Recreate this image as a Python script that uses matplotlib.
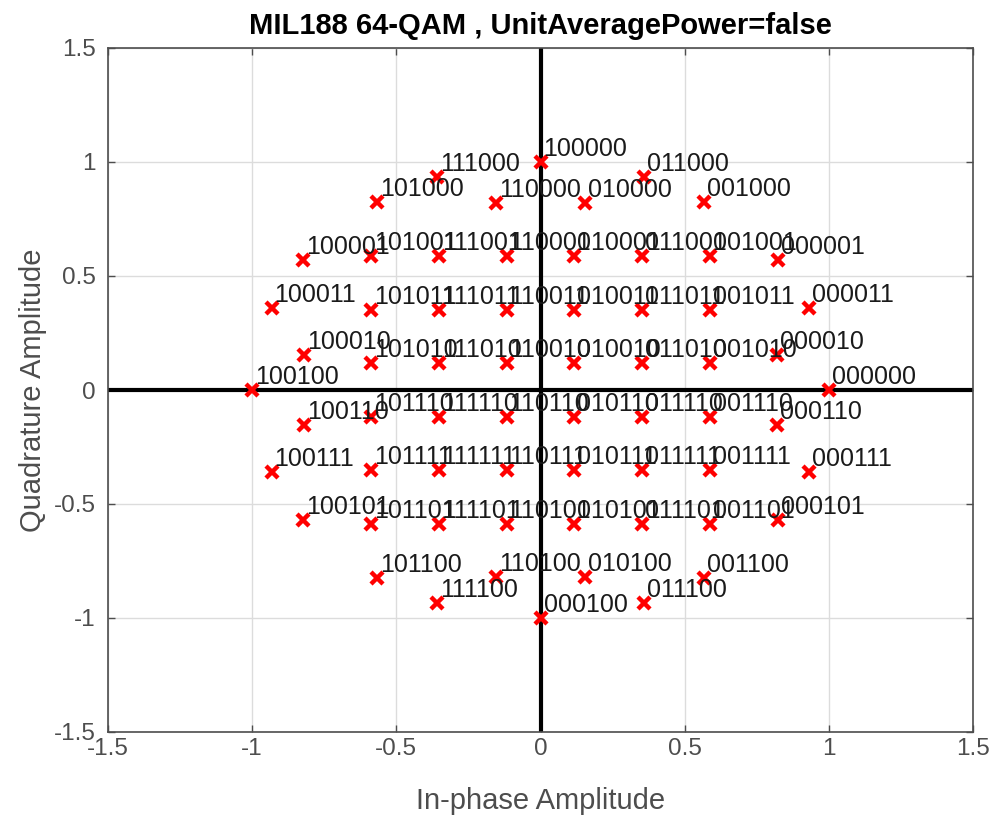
import matplotlib
matplotlib.use("Agg")
import matplotlib.pyplot as plt

# Constellation points (in-phase, quadrature) and their bit labels
labels = [
    "000000", "000010", "000011", "000001", "001000", "011000", "010000",
    "100000", "110000", "111000", "101000", "100001", "100011", "100010",
    "100100", "100110", "100111", "100101", "101100", "111100", "110100",
    "000100", "010100", "011100", "001100", "000101", "000111", "000110",
    "001001", "011001", "010001", "001011", "011011", "010011", "001010", "011010", "010010",
    "101001", "111001", "110001", "101011", "111011", "110011", "101010", "111010", "110010",
    "101101", "111101", "110101", "101111", "111111", "110111", "101110", "111110", "110110",
    "001101", "011101", "010101", "001111", "011111", "010111", "001110", "011110", "010110",
]
i_vals = [
    1.000000, 0.821137, 0.932897, 0.822878, 0.568218, 0.360142, 0.152996,
    0.000000, -0.152996, -0.360142, -0.568218, -0.822878, -0.932897, -0.821137,
    -1.000000, -0.821137, -0.932897, -0.822878, -0.568218, -0.360142, -0.152996,
    0.000000, 0.152996, 0.360142, 0.568218, 0.822878, 0.932897, 0.821137,
    0.588429, 0.353057, 0.117686, 0.588429, 0.353057, 0.117686, 0.588429, 0.353057, 0.117686,
    -0.588429, -0.353057, -0.117686, -0.588429, -0.353057, -0.117686, -0.588429, -0.353057, -0.117686,
    -0.588429, -0.353057, -0.117686, -0.588429, -0.353057, -0.117686, -0.588429, -0.353057, -0.117686,
    0.588429, 0.353057, 0.117686, 0.588429, 0.353057, 0.117686, 0.588429, 0.353057, 0.117686,
]
q_vals = [
    0.000000, 0.152996, 0.360142, 0.568218, 0.822878, 0.932897, 0.821137,
    1.000000, 0.821137, 0.932897, 0.822878, 0.568218, 0.360142, 0.152996,
    0.000000, -0.152996, -0.360142, -0.568218, -0.822878, -0.932897, -0.821137,
    -1.000000, -0.821137, -0.932897, -0.822878, -0.568218, -0.360142, -0.152996,
    0.588429, 0.588429, 0.588429, 0.353057, 0.353057, 0.353057, 0.117686, 0.117686, 0.117686,
    0.588429, 0.588429, 0.588429, 0.353057, 0.353057, 0.353057, 0.117686, 0.117686, 0.117686,
    -0.588429, -0.588429, -0.588429, -0.353057, -0.353057, -0.353057, -0.117686, -0.117686, -0.117686,
    -0.588429, -0.588429, -0.588429, -0.353057, -0.353057, -0.353057, -0.117686, -0.117686, -0.117686,
]
tick_vals = [-1.5, -1, -0.5, 0, 0.5, 1, 1.5]
tick_labels = ["-1.5", "-1", "-0.5", "0", "0.5", "1", "1.5"]
title = "MIL188 64-QAM , UnitAveragePower=false"
xlabel = "In-phase Amplitude"
ylabel = "Quadrature Amplitude"

plt.rcParams['font.family'] = ['Liberation Sans', 'DejaVu Sans']

fig = plt.figure(figsize=(9.96, 8.19), dpi=100)
ax = fig.add_axes([108/996, 1 - 732/819, (973-108)/996, (732-48)/819])

ax.set_xlim(-1.5, 1.5)
ax.set_ylim(-1.5, 1.5)
ax.set_xticks(tick_vals)
ax.set_xticklabels(tick_labels)
ax.set_yticks(tick_vals)
ax.set_yticklabels(tick_labels)
ax.grid(True, color="#dcdcdc", linewidth=1.0)
ax.set_axisbelow(True)
for s in ax.spines.values():
    s.set_color("#4d4d4d")
    s.set_linewidth(1.2)
ax.tick_params(direction="in", length=5, width=1.0, color="#4d4d4d",
               labelsize=17.5, labelcolor="#4d4d4d", top=True, right=True)
ax.tick_params(axis="x", pad=4)
ax.tick_params(axis="y", pad=9)

ax.axhline(0, color="black", linewidth=3.0, zorder=2)
ax.axvline(0, color="black", linewidth=3.0, zorder=2)

ax.plot(i_vals, q_vals, linestyle="none", marker="x", color="red",
        markersize=8, markeredgewidth=3.2, zorder=3)

for lab, xv, yv in zip(labels, i_vals, q_vals):
    ax.annotate(lab, (xv, yv), xytext=(3, 1), textcoords="offset pixels",
                ha="left", va="bottom", fontsize=18, color="#1a1a1a", zorder=4)

ax.set_title(title, fontsize=21, fontweight="bold", color="black", pad=10)
ax.set_xlabel(xlabel, fontsize=21, color="#4d4d4d", labelpad=20)
ax.set_ylabel(ylabel, fontsize=21, color="#4d4d4d", labelpad=5)

fig.savefig("out.png", dpi=100)
